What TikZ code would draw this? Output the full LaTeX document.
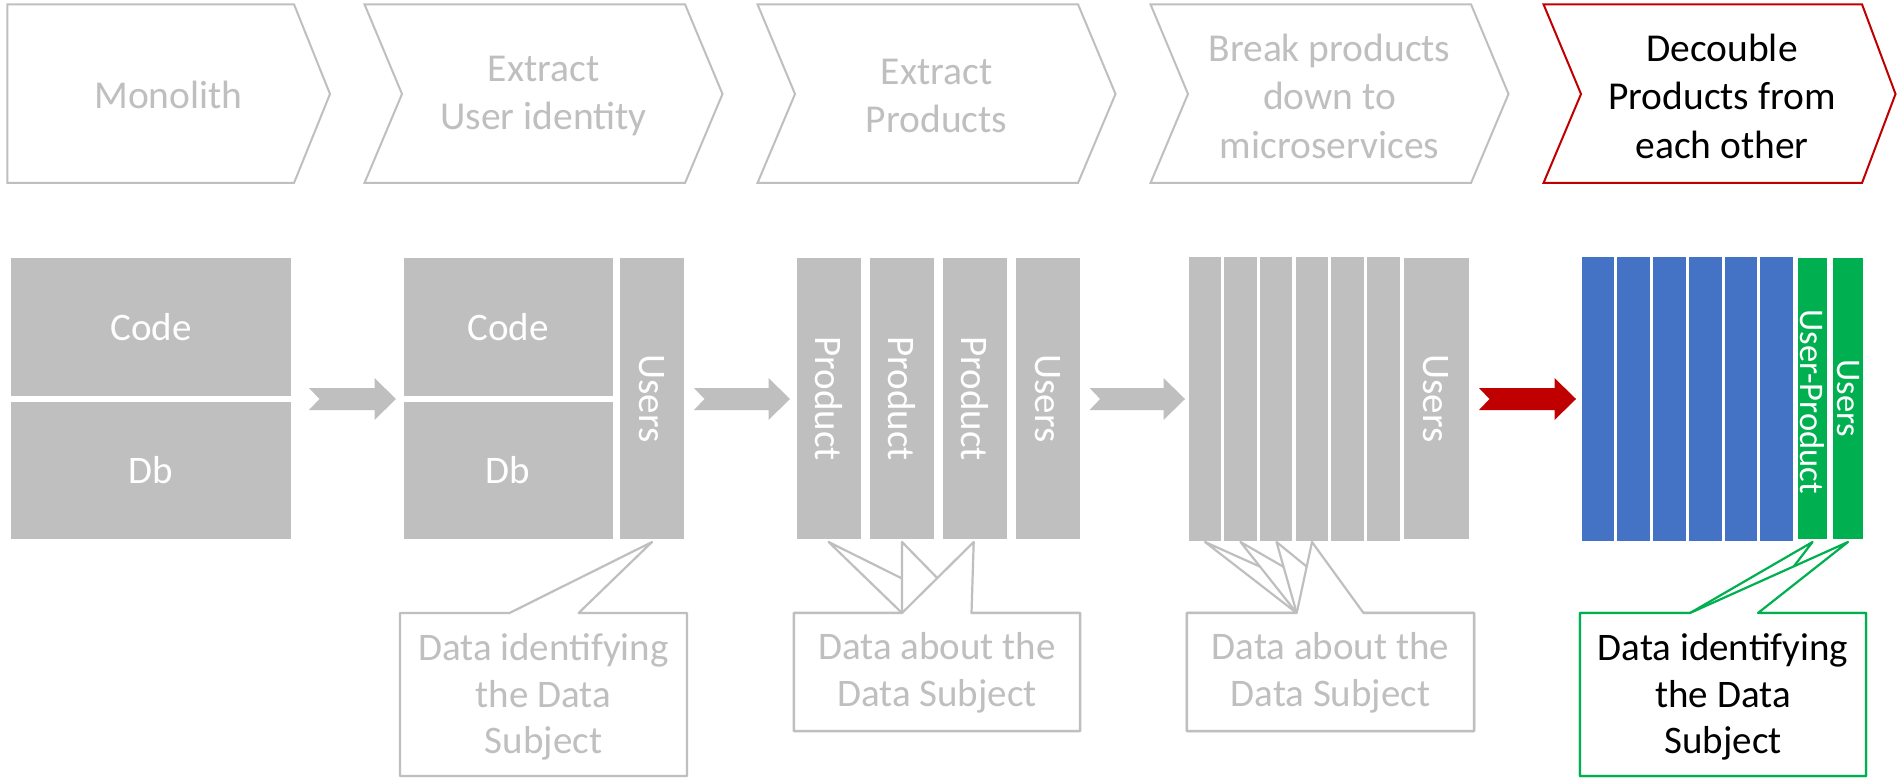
\documentclass[tikz,border=0pt]{standalone}
\usepackage{fontspec}
\setmainfont{Carlito}
\usetikzlibrary{fit}
\definecolor{lgray}{HTML}{BFBFBF}
\definecolor{dred}{HTML}{C00000}
\definecolor{mblue}{HTML}{4472C4}
\definecolor{mgreen}{HTML}{00B050}
\newcommand\mycallout[7]{\filldraw[#1] (#2,613) -- (#5,613) -- (#7,542) -- (#6,613) -- (#3,613) -- (#3,#4) -- (#2,#4) -- cycle;}
\newcommand\blockarrow[3]{\fill[#1] (#2,388) -- ({#3-21.5},388) -- ({#3-21.5},378) -- (#3,399) -- ({#3-21.5},420) -- ({#3-21.5},410) -- (#2,410) -- ({#2+10.5},399) -- cycle;}
\begin{document}
\begin{tikzpicture}[x=1pt,y=-1pt,
  chev/.style={draw=lgray, line width=2pt, line join=miter},
  chevred/.style={draw=dred, line width=2pt, line join=miter},
  ttext/.style={align=center, font=\fontsize{39.5}{48.5}\selectfont, text=lgray, inner sep=0pt},
  blk/.style={fill=lgray, inner sep=0pt, outer sep=0pt},
  bluek/.style={fill=mblue, inner sep=0pt, outer sep=0pt},
  greenk/.style={fill=mgreen, inner sep=0pt, outer sep=0pt},
  wtext/.style={font=\fontsize{39}{47}\selectfont, text=white, inner sep=0pt},
  vtext/.style={font=\fontsize{39}{47}\selectfont, text=white, inner sep=0pt, rotate=-90},
  vgtext/.style={font=\fontsize{34.5}{41}\selectfont, text=white, inner sep=0pt, rotate=-90},
  callg/.style={draw=lgray, fill=white, line width=2.2pt, line join=round},
  callgr/.style={draw=mgreen, fill=white, line width=2.2pt, line join=round},
  ctext/.style={align=center, font=\fontsize{39}{46.5}\selectfont, text=lgray, inner sep=0pt}
]
\useasboundingbox (0,0) rectangle (1897,778);
\fill[white] (0,0) rectangle (1897,778);

% ---- top process chevrons ----
\draw[chev] (7.3,4.3) -- (294,4.3) -- (330,94) -- (294,183) -- (7.3,183) -- cycle;
\node[ttext] (t1) at (168.5,95) {Monolith};
\draw[chev] (364.5,4.3) -- (685,4.3) -- (722.5,94) -- (685,183) -- (364.5,183) -- (402,94) -- cycle;
\node[ttext] (t2) at (543.5,96) {Extract\\User identity};
\draw[chev] (757.5,4.3) -- (1078,4.3) -- (1115.5,94) -- (1078,183) -- (757.5,183) -- (795,94) -- cycle;
\node[ttext] (t3) at (936.5,96) {Extract\\Products};
\draw[chev] (1150.5,4.3) -- (1471,4.3) -- (1508.5,94) -- (1471,183) -- (1150.5,183) -- (1188,94) -- cycle;
\node[ttext] (t4) at (1329.5,96) {Break products\\down to\\microservices};
\draw[chevred] (1543.5,4.3) -- (1862,4.3) -- (1895.5,94) -- (1862,183) -- (1543.5,183) -- (1581,94) -- cycle;
\node[ttext, text=black] (t5) at (1722,96) {Decouble\\Products from\\each other};

% ---- stage 1 ----
\node[blk, fit={(10.7,258)(291,396)}] (code1) {};
\node[wtext] (code1t) at (code1.center) {Code};
\node[blk, fit={(10.7,402)(291,539)}] (db1) {};
\node[wtext] (db1t) at (db1.center) {Db};

% ---- stage 2 ----
\node[blk, fit={(403.6,258)(612.5,396)}] (code2) {};
\node[wtext] (code2t) at (code2.center) {Code};
\node[blk, fit={(403.6,402)(612.5,539)}] (db2) {};
\node[wtext] (db2t) at (db2.center) {Db};
\node[blk, fit={(619.6,258)(683.5,539)}] (u2) {};
\node[vtext] (u2t) at (u2.center) {Users};

% ---- stage 3 ----
\node[blk, fit={(797,258)(861,539)}] (p1) {};
\node[vtext] (p1t) at (p1.center) {Product};
\node[blk, fit={(870,258)(934,539)}] (p2) {};
\node[vtext] (p2t) at (p2.center) {Product};
\node[blk, fit={(942.5,258)(1007,539)}] (p3) {};
\node[vtext] (p3t) at (p3.center) {Product};
\node[blk, fit={(1015.7,258)(1080,539)}] (u3) {};
\node[vtext] (u3t) at (u3.center) {Users};

% ---- stage 4 ----
\foreach \i in {0,...,5} {
  \pgfmathsetmacro\xa{1188.5+35.7*\i}
  \pgfmathsetmacro\xb{\xa+32.5}
  \node[blk, fit={(\xa,257)(\xb,540.7)}] (s\i) {};
}
\node[blk, fit={(1404,258)(1468.6,539)}] (u4) {};
\node[vtext] (u4t) at (u4.center) {Users};

% ---- stage 5 ----
\foreach \i in {0,...,5} {
  \pgfmathsetmacro\xa{1581.7+35.7*\i}
  \pgfmathsetmacro\xb{\xa+32.7}
  \node[bluek, fit={(\xa,257)(\xb,540.7)}] (b\i) {};
}
\node[greenk, fit={(1797.6,258)(1827,539)}] (g1) {};
\node[vgtext] (g1t) at ([yshift=-3pt]g1.center) {User-Product};
\node[greenk, fit={(1833.4,258)(1863,539)}] (g2) {};
\node[vgtext] (g2t) at (g2.center) {Users};

% ---- block arrows ----
\blockarrow{lgray}{309}{396}
\blockarrow{lgray}{694}{790}
\blockarrow{lgray}{1089.6}{1185}
\blockarrow{dred}{1479}{1576}

% ---- callouts ----
\mycallout{callg}{400}{687}{776}{509.5}{578.6}{652}
\node[ctext] (c1) at (543.5,697) {Data identifying\\the Data\\Subject};

\mycallout{callg}{794}{1080}{731}{902}{971.5}{828.6}
\mycallout{callg}{794}{1080}{731}{902}{971.5}{902}
\mycallout{callg}{794}{1080}{731}{902}{971.5}{973.7}
\node[ctext] (c2) at (937,673) {Data about the\\Data Subject};

\mycallout{callg}{1187}{1474}{731}{1296.7}{1363.5}{1205}
\mycallout{callg}{1187}{1474}{731}{1296.7}{1363.5}{1240.5}
\mycallout{callg}{1187}{1474}{731}{1296.7}{1363.5}{1276.5}
\mycallout{callg}{1187}{1474}{731}{1296.7}{1363.5}{1312}
\node[ctext] (c3) at (1330.5,673) {Data about the\\Data Subject};

\mycallout{callgr}{1580}{1866}{776}{1690}{1758}{1812.5}
\mycallout{callgr}{1580}{1866}{776}{1690}{1758}{1848}
\node[ctext, text=black] (c4) at (1723,697) {Data identifying\\the Data\\Subject};
\end{tikzpicture}
\end{document}
